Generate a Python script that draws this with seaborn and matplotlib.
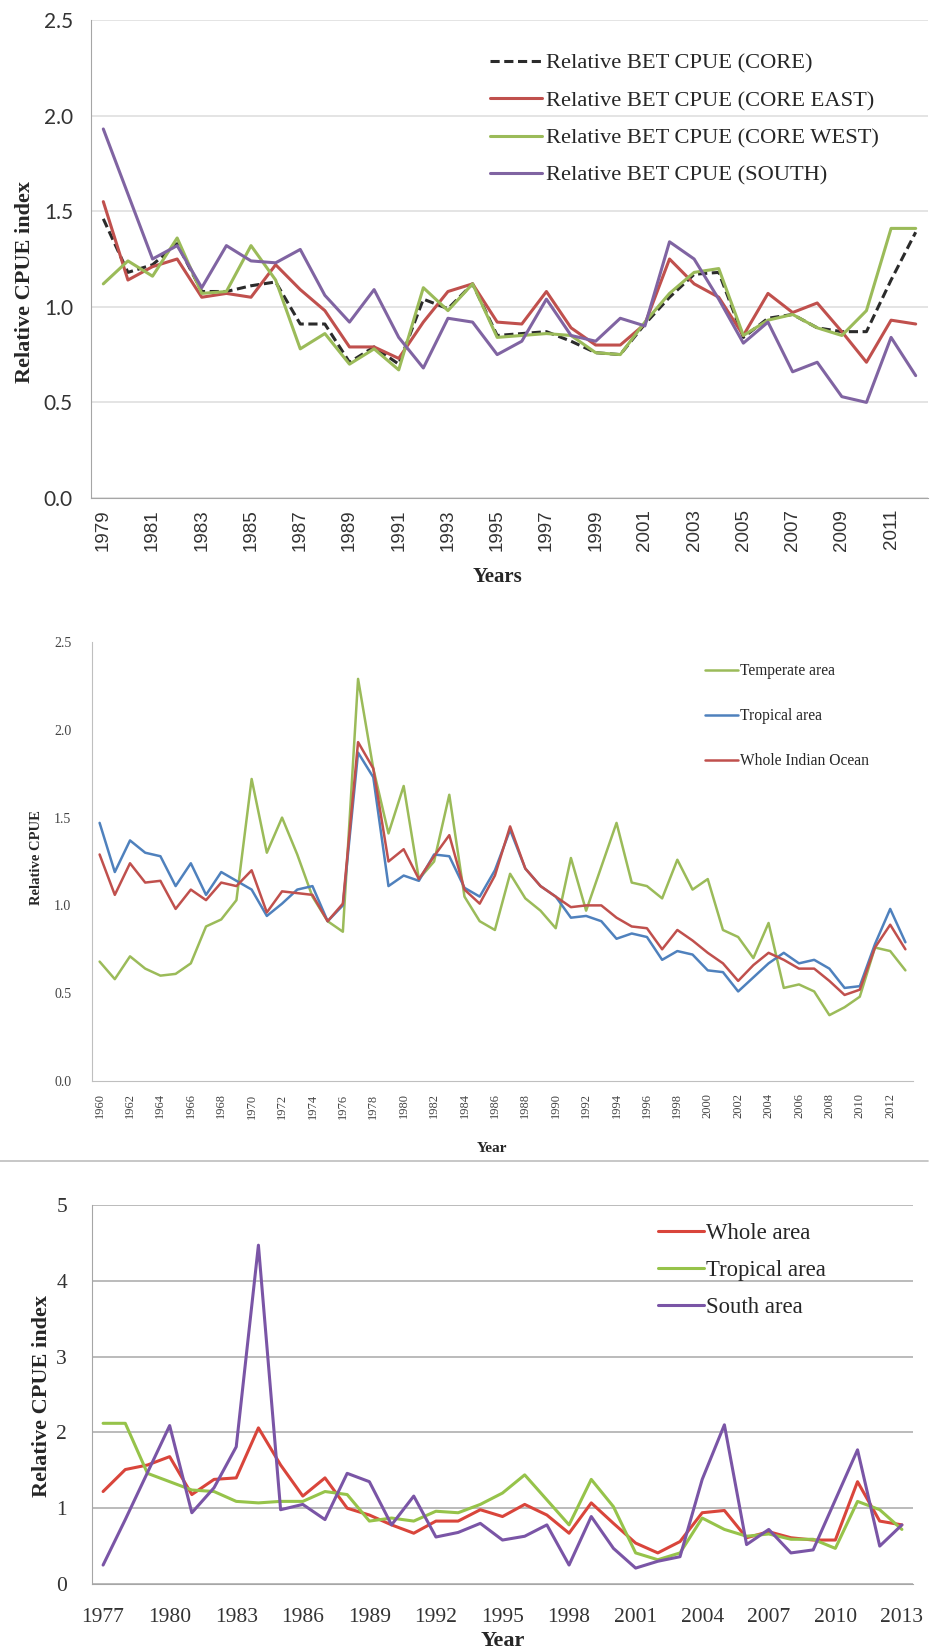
import numpy as np
import pandas as pd
import matplotlib
matplotlib.use("Agg")
import matplotlib.pyplot as plt
from matplotlib.lines import Line2D
import seaborn as sns

# ---------------- data ----------------
years_a = list(range(1979, 2013))
core = [1.46, 1.18, 1.22, 1.33, 1.08, 1.08, 1.11, 1.13, 0.91, 0.91, 0.71, 0.79, 0.70,
        1.04, 0.99, 1.12,
        0.85, 0.86, 0.87, 0.82, 0.76, 0.75, 0.91, 1.05, 1.17, 1.18, 0.84, 0.94, 0.96,
        0.89, 0.87, 0.87, 1.14, 1.39]
core_east = [1.55, 1.14, 1.21, 1.25, 1.05, 1.07, 1.05, 1.22, 1.09, 0.98, 0.79, 0.79, 0.73,
             0.92, 1.08, 1.12,
             0.92, 0.91, 1.08, 0.89, 0.80, 0.80, 0.91, 1.25, 1.12, 1.05, 0.85, 1.07, 0.97,
             1.02, 0.87, 0.71, 0.93, 0.91]
core_west = [1.12, 1.24, 1.16, 1.36, 1.07, 1.08, 1.32, 1.14, 0.78, 0.86, 0.70, 0.78, 0.67,
             1.10, 0.98, 1.12,
             0.84, 0.85, 0.86, 0.85, 0.76, 0.75, 0.92, 1.07, 1.18, 1.20, 0.85, 0.93, 0.96,
             0.89, 0.85, 0.98, 1.41, 1.41]
south_a = [1.93, 1.59, 1.25, 1.32, 1.10, 1.32, 1.24, 1.23, 1.30, 1.06, 0.92, 1.09, 0.84,
           0.68, 0.94, 0.92,
           0.75, 0.82, 1.04, 0.85, 0.82, 0.94, 0.90, 1.34, 1.25, 1.04, 0.81, 0.92, 0.66,
           0.71, 0.53, 0.50, 0.84, 0.64]
names_a = ["Relative BET CPUE (CORE)", "Relative BET CPUE (CORE EAST)",
           "Relative BET CPUE (CORE WEST)", "Relative BET CPUE (SOUTH)"]

years_b = list(range(1960, 2014))
temperate = [0.68, 0.58, 0.71, 0.64, 0.60, 0.61, 0.67, 0.88, 0.92, 1.03,
             1.72, 1.30, 1.50, 1.29, 1.05, 0.91, 0.85, 2.29, 1.78, 1.41,
             1.68, 1.15, 1.25, 1.63, 1.05, 0.91, 0.86, 1.18, 1.04, 0.97,
             0.87, 1.27, 0.97, 1.22, 1.47, 1.13, 1.11, 1.04, 1.26, 1.09,
             1.15, 0.86, 0.82, 0.70, 0.90, 0.53, 0.55, 0.51, 0.375, 0.42,
             0.48, 0.76, 0.74, 0.63]
tropical_b = [1.47, 1.19, 1.37, 1.30, 1.28, 1.11, 1.24, 1.06, 1.19, 1.14,
              1.09, 0.94, 1.01, 1.09, 1.11, 0.91, 1.00, 1.87, 1.73, 1.11,
              1.17, 1.14, 1.29, 1.28, 1.10, 1.05, 1.20, 1.43, 1.21, 1.11,
              1.05, 0.93, 0.94, 0.91, 0.81, 0.84, 0.82, 0.69, 0.74, 0.72,
              0.63, 0.62, 0.51, 0.59, 0.67, 0.73, 0.67, 0.69, 0.64, 0.53,
              0.54, 0.78, 0.98, 0.79]
whole_io = [1.29, 1.06, 1.24, 1.13, 1.14, 0.98, 1.09, 1.03, 1.13, 1.11,
            1.20, 0.96, 1.08, 1.07, 1.06, 0.91, 1.01, 1.93, 1.78, 1.25,
            1.32, 1.15, 1.28, 1.40, 1.09, 1.01, 1.17, 1.45, 1.21, 1.11,
            1.05, 0.99, 1.00, 1.00, 0.93, 0.88, 0.87, 0.75, 0.86, 0.80,
            0.73, 0.67, 0.57, 0.66, 0.73, 0.69, 0.64, 0.64, 0.57, 0.49,
            0.52, 0.76, 0.89, 0.75]
names_b = ["Temperate area", "Tropical area", "Whole Indian Ocean"]

years_c = list(range(1977, 2014))
whole_c = [1.22, 1.51, 1.57,
           1.68, 1.18, 1.38, 1.40, 2.06, 1.57, 1.16, 1.40, 1.00, 0.91,
           0.78, 0.67, 0.83, 0.83, 0.98, 0.89, 1.05, 0.91, 0.67, 1.07,
           0.80, 0.54, 0.41, 0.56, 0.94, 0.97, 0.61, 0.69, 0.61, 0.58,
           0.58, 1.35, 0.83, 0.78]
tropical_c = [2.12, 2.12, 1.46,
              1.35, 1.24, 1.22, 1.09, 1.07, 1.09, 1.09, 1.22, 1.18, 0.83,
              0.87, 0.83, 0.96, 0.94, 1.05, 1.20, 1.44, 1.11, 0.78, 1.38,
              1.02, 0.41, 0.32, 0.41, 0.87, 0.72, 0.63, 0.66, 0.59, 0.59,
              0.47, 1.09, 0.98, 0.72]
south_c = [0.25, 0.85, 1.47,
           2.09, 0.94, 1.27, 1.81, 4.47, 0.98, 1.05, 0.85, 1.46, 1.35,
           0.78, 1.16, 0.62, 0.68, 0.80, 0.58, 0.63, 0.78, 0.25, 0.89,
           0.47, 0.21, 0.30, 0.36, 1.38, 2.10, 0.52, 0.72, 0.41, 0.45,
           1.11, 1.77, 0.50, 0.78]
names_c = ["Whole area", "Tropical area", "South area"]


def long_frame(years, series, names):
    return pd.DataFrame({
        "Year": np.tile(years, len(series)),
        "Value": np.concatenate(series),
        "Series": np.repeat(names, len(years)),
    })


df_a = long_frame(years_a, [core, core_east, core_west, south_a], names_a)
df_b = long_frame(years_b, [temperate, tropical_b, whole_io], names_b)
df_c = long_frame(years_c, [whole_c, tropical_c, south_c], names_c)

# ---------------- style ----------------
sns.set_style("white")
plt.rcParams["font.family"] = ["Liberation Serif", "DejaVu Serif"]
SERIF = "Liberation Serif"
SANS_Y = "Lato"
SANS_X = "Liberation Sans"

W, H = 933, 1652
fig = plt.figure(figsize=(W / 100, H / 100), dpi=100)


def axes_px(left, top, right, bottom):
    return fig.add_axes([left / W, 1 - bottom / H, (right - left) / W, (bottom - top) / H])


RED = "#C0504D"
GREEN = "#9BBB59"
PURPLE = "#8064A2"
BLUE = "#4F81BD"
AXIS_GREY = "#A6A6A6"

# ---------------- panel A ----------------
ax1 = axes_px(91, 20, 928, 498)
pal_a = dict(zip(names_a, ["#2B2B2B", RED, GREEN, PURPLE]))
dash_a = dict(zip(names_a, [(3, 1.5), "", "", ""]))
sns.lineplot(data=df_a, x="Year", y="Value", hue="Series", style="Series",
             hue_order=names_a, style_order=names_a, palette=pal_a, dashes=dash_a,
             lw=2.2, errorbar=None, ax=ax1)
ax1.set_xlim(1978.5, 2012.5)
ax1.set_ylim(0, 2.5)
ax1.set_yticks(np.arange(0, 2.51, 0.5))
ax1.set_yticklabels([f"{v:.1f}" for v in np.arange(0, 2.51, 0.5)], fontfamily=SANS_Y,
                    fontsize=15, color="#333333")
ax1.set_xticks(years_a[::2])
ax1.set_xticklabels([str(y) for y in years_a[::2]], rotation=90, fontfamily=SANS_X,
                    fontsize=13.5, color="#333333")
ax1.set_xticks(np.arange(1978.5, 2013, 1), minor=True)
ax1.tick_params(axis="x", which="major", length=0, pad=8)
ax1.tick_params(axis="x", which="minor", length=5, color=AXIS_GREY, direction="out")
ax1.tick_params(axis="y", length=8, color=AXIS_GREY, pad=5)
ax1.grid(axis="y", color="#DCDCDC", lw=1.1)
ax1.set_axisbelow(True)
for s in ["top", "right"]:
    ax1.spines[s].set_visible(False)
for s in ["left", "bottom"]:
    ax1.spines[s].set_color(AXIS_GREY)
ax1.set_xlabel("")
ax1.set_ylabel("")
h, l = ax1.get_legend_handles_labels()
ax1.legend(h, l, loc="upper left", bbox_to_anchor=(490 / W, 1 - 53 / H),
           bbox_transform=fig.transFigure, frameon=False,
           prop={"family": SERIF, "size": 16.2}, handlelength=2.3, handletextpad=0.2,
           labelspacing=0.74, borderpad=0, borderaxespad=0)
fig.text(25 / W, 1 - 282 / H, "Relative CPUE index", rotation=90, ha="center",
         va="center", fontsize=16, fontweight="bold", family=SERIF)
fig.text(497 / W, 1 - 577 / H, "Years", ha="center", va="center", fontsize=15,
         fontweight="bold", family=SERIF)

# ---------------- panel B ----------------
ax2 = axes_px(92, 642, 913, 1081)
pal_b = dict(zip(names_b, [GREEN, BLUE, RED]))
sns.lineplot(data=df_b, x="Year", y="Value", hue="Series", hue_order=names_b,
             palette=pal_b, lw=1.8, errorbar=None, ax=ax2)
ax2.set_xlim(1959.5, 2013.5)
ax2.set_ylim(0, 2.5)
ax2.set_yticks(np.arange(0, 2.51, 0.5))
ax2.set_yticklabels([f"{v:.1f}" for v in np.arange(0, 2.51, 0.5)], fontsize=10,
                    color="#444444", family=SERIF)
ax2.set_xticks(years_b[::2])
ax2.set_xticklabels([str(y) for y in years_b[::2]], rotation=90, fontsize=9,
                    color="#444444", family=SERIF)
ax2.set_xticks(np.arange(1959.5, 2014, 1), minor=True)
ax2.tick_params(axis="x", which="major", length=0, pad=9)
ax2.tick_params(axis="x", which="minor", length=4, color=AXIS_GREY, direction="out")
ax2.tick_params(axis="y", length=5, color=AXIS_GREY, pad=10)
ax2.grid(False)
for s in ["top", "right"]:
    ax2.spines[s].set_visible(False)
for s in ["left", "bottom"]:
    ax2.spines[s].set_color("#BFBFBF")
ax2.set_xlabel("")
ax2.set_ylabel("")
h, l = ax2.get_legend_handles_labels()
ax2.legend(h, l, loc="upper left", bbox_to_anchor=(705 / W, 1 - 663 / H),
           bbox_transform=fig.transFigure, frameon=False,
           prop={"family": SERIF, "size": 11.2}, handlelength=2.1, handletextpad=0.15,
           labelspacing=1.88, borderpad=0, borderaxespad=0)
fig.text(37 / W, 1 - 858 / H, "Relative CPUE", rotation=90, ha="center", va="center",
         fontsize=10.5, fontweight="bold", family=SERIF)
fig.text(492 / W, 1 - 1148 / H, "Year", ha="center", va="center", fontsize=11,
         fontweight="bold", family=SERIF)

# divider between the lower panels
fig.add_artist(Line2D([0, 0.995], [1 - 1161 / H] * 2, color="#BDBDBD", lw=1.2))

# ---------------- panel C ----------------
ax3 = axes_px(92, 1205, 913, 1584)
pal_c = dict(zip(names_c, ["#D9453B", "#96C34A", "#7A55A6"]))
sns.lineplot(data=df_c, x="Year", y="Value", hue="Series", hue_order=names_c,
             palette=pal_c, lw=2.2, errorbar=None, ax=ax3)
ax3.set_xlim(1976.5, 2013.5)
ax3.set_ylim(0, 5)
ax3.set_yticks(range(0, 6))
ax3.set_yticklabels([str(v) for v in range(0, 6)], fontsize=15.5, color="#333333",
                    family=SERIF)
ax3.set_xticks(years_c[::3])
ax3.set_xticklabels([str(y) for y in years_c[::3]], fontsize=15.5, color="#333333",
                    family=SERIF)
ax3.set_xticks(np.arange(1976.5, 2014, 1), minor=True)
ax3.tick_params(axis="x", which="major", length=0, pad=17)
ax3.tick_params(axis="x", which="minor", length=8, color=AXIS_GREY, direction="in")
ax3.tick_params(axis="y", length=0, pad=18)
ax3.grid(axis="y", color="#A8A8A8", lw=1.1)
ax3.set_axisbelow(True)
for s in ["top", "right"]:
    ax3.spines[s].set_visible(False)
for s in ["left", "bottom"]:
    ax3.spines[s].set_color(AXIS_GREY)
ax3.set_xlabel("")
ax3.set_ylabel("")
h, l = ax3.get_legend_handles_labels()
ax3.legend(h, l, loc="upper left", bbox_to_anchor=(658 / W, 1 - 1223 / H),
           bbox_transform=fig.transFigure, frameon=False,
           prop={"family": SERIF, "size": 16.4}, handlelength=2.0, handletextpad=0.1,
           labelspacing=0.7, borderpad=0, borderaxespad=0)
fig.text(42 / W, 1 - 1396 / H, "Relative CPUE index", rotation=90, ha="center",
         va="center", fontsize=16, fontweight="bold", family=SERIF)
fig.text(503 / W, 1 - 1641 / H, "Year", ha="center", va="center", fontsize=16,
         fontweight="bold", family=SERIF)

fig.savefig("out.png", dpi=100)
